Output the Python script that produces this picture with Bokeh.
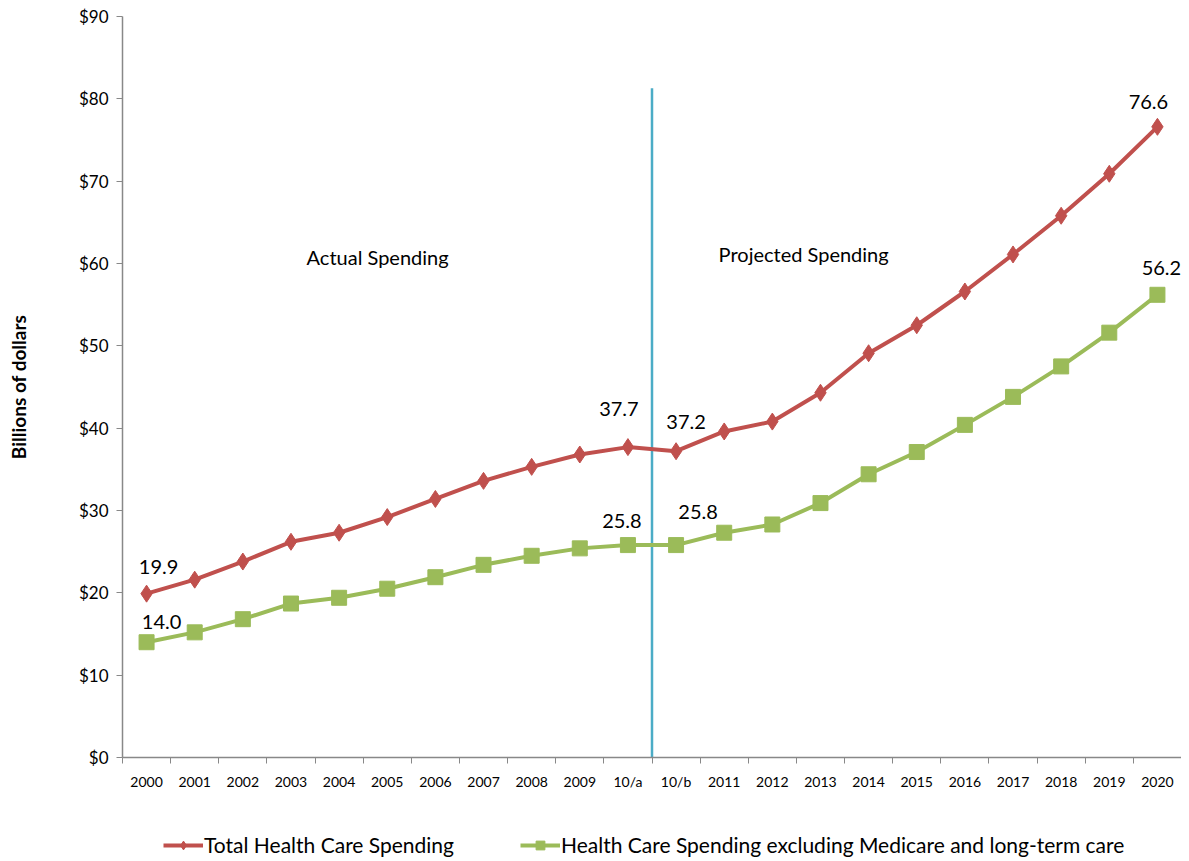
from bokeh.plotting import figure
from bokeh.layouts import column
from bokeh.models import (ColumnDataSource, FixedTicker, NumeralTickFormatter,
                          Legend, LegendItem, Label, Range1d)
from bokeh.core.properties import value
from bokeh.embed import file_html
from bokeh.resources import INLINE

categories = ["2000", "2001", "2002", "2003", "2004", "2005", "2006", "2007",
              "2008", "2009", "10/a", "10/b", "2011", "2012", "2013", "2014",
              "2015", "2016", "2017", "2018", "2019", "2020"]
total = [19.9, 21.6, 23.8, 26.2, 27.3, 29.2, 31.4, 33.6, 35.3, 36.8, 37.7,
         37.2, 39.6, 40.8, 44.3, 49.1, 52.5, 56.6, 61.1, 65.8, 70.9, 76.6]
excl = [14.0, 15.2, 16.8, 18.7, 19.4, 20.5, 21.9, 23.4, 24.5, 25.4, 25.8,
        25.8, 27.3, 28.3, 30.9, 34.4, 37.1, 40.4, 43.8, 47.5, 51.6, 56.2]
y_ticks = [0, 10, 20, 30, 40, 50, 60, 70, 80, 90]
divider_top = 81.3
series_names = ["Total Health Care Spending",
                "Health Care Spending excluding Medicare and long-term care"]

FONT = "Lato"
RED = "#C0504D"
GREEN = "#9BBB59"
BLUE = "#4BACC6"

xs = [i + 0.5 for i in range(len(categories))]
src = ColumnDataSource(dict(x=xs, total=total, excl=excl))

p = figure(width=1181, height=801, x_range=(0, len(categories)), y_range=(0, 90),
           output_backend="svg", toolbar_location=None,
           min_border_left=122, min_border_right=0, min_border_top=16,
           min_border_bottom=44)
p.outline_line_color = None
p.xgrid.visible = False
p.ygrid.visible = False

# divider line between actual and projected
p.segment(x0=[11], y0=[0], x1=[11], y1=[divider_top], line_color=BLUE, line_width=2.5)

p.line("x", "total", source=src, line_color=RED, line_width=4)
p.scatter("x", "total", source=src, marker="diamond", size=17, color=RED)
p.line("x", "excl", source=src, line_color=GREEN, line_width=4)
p.scatter("x", "excl", source=src, marker="square", size=15, color=GREEN)

# x axis
xa = p.xaxis[0]
xa.ticker = FixedTicker(ticks=xs, minor_ticks=list(range(len(categories) + 1)))
xa.major_label_overrides = {x: c for x, c in zip(xs, categories)}
xa.major_tick_out = 0
xa.major_tick_in = 0
xa.minor_tick_out = 6
xa.minor_tick_in = 0
xa.minor_tick_line_color = "#888888"
xa.axis_line_color = "#888888"
xa.axis_line_width = 1.5
xa.major_label_text_font = FONT
xa.major_label_text_font_size = "14px"
xa.major_label_text_color = "#000000"
xa.major_label_standoff = 9

# y axis
ya = p.yaxis[0]
ya.ticker = FixedTicker(ticks=y_ticks)
ya.formatter = NumeralTickFormatter(format="$0")
ya.major_tick_out = 6
ya.major_tick_in = 0
ya.minor_tick_out = 0
ya.minor_tick_in = 0
ya.major_tick_line_color = "#888888"
ya.axis_line_color = "#888888"
ya.axis_line_width = 1.5
ya.major_label_text_font = FONT
ya.major_label_text_font_size = "17px"
ya.major_label_text_color = "#000000"
ya.major_label_standoff = 8
ya.axis_label = "Billions of dollars"
ya.axis_label_text_font = FONT
ya.axis_label_text_font_size = "19px"
ya.axis_label_text_font_style = "bold"
ya.axis_label_text_color = "#000000"
ya.axis_label_standoff = 46

# data labels
lab = dict(
    x=[xs[0], xs[0], xs[10], xs[11], xs[10], xs[11], xs[21], xs[21]],
    y=[total[0], excl[0], total[10], total[11], excl[10], excl[11], total[21], excl[21]],
    t=[f"{total[0]:.1f}", f"{excl[0]:.1f}", f"{total[10]:.1f}", f"{total[11]:.1f}",
       f"{excl[10]:.1f}", f"{excl[11]:.1f}", f"{total[21]:.1f}", f"{excl[21]:.1f}"],
    dx=[12, 15, -9, 10, -6, 22, -9, 4],
    dy=[-27, -20, -38, -29, -24, -33, -25, -27],
)
p.text("x", "y", text="t", source=ColumnDataSource(lab), x_offset="dx", y_offset="dy",
       text_align="center", text_baseline="middle", text_font=value(FONT),
       text_font_size="20px", text_color="#000000")

p.add_layout(Label(x=5.3, y=60.8, text="Actual Spending", text_align="center",
                   text_baseline="middle", text_font=FONT, text_font_size="20px",
                   text_color="#000000"))
p.add_layout(Label(x=14.15, y=61.1, text="Projected Spending", text_align="center",
                   text_baseline="middle", text_font=FONT, text_font_size="20px",
                   text_color="#000000"))

# legend strip below the chart (its renderers fall outside its own ranges)
q = figure(width=1181, height=57, x_range=Range1d(0, 1), y_range=Range1d(0, 1),
           output_backend="svg", toolbar_location=None,
           min_border_left=0, min_border_right=0, min_border_top=0,
           min_border_bottom=0)
q.axis.visible = False
q.xgrid.visible = False
q.ygrid.visible = False
q.outline_line_color = None
l1 = q.line("x", "total", source=src, line_color=RED, line_width=4)
s1 = q.scatter("x", "total", source=src, marker="diamond", size=17, color=RED)
l2 = q.line("x", "excl", source=src, line_color=GREEN, line_width=4)
s2 = q.scatter("x", "excl", source=src, marker="square", size=15, color=GREEN)

legend = Legend(items=[
    LegendItem(label=series_names[0], renderers=[l1, s1]),
    LegendItem(label=series_names[1], renderers=[l2, s2]),
], orientation="horizontal", location=(41, 1), padding=0, margin=0,
    spacing=66, glyph_width=40, glyph_height=22, label_standoff=1,
    label_text_font=FONT, label_text_font_size="21px", label_text_color="#000000",
    border_line_color=None, background_fill_alpha=0)
q.add_layout(legend, "center")

open("out.html", "w").write(file_html(column(p, q, spacing=0), INLINE))
